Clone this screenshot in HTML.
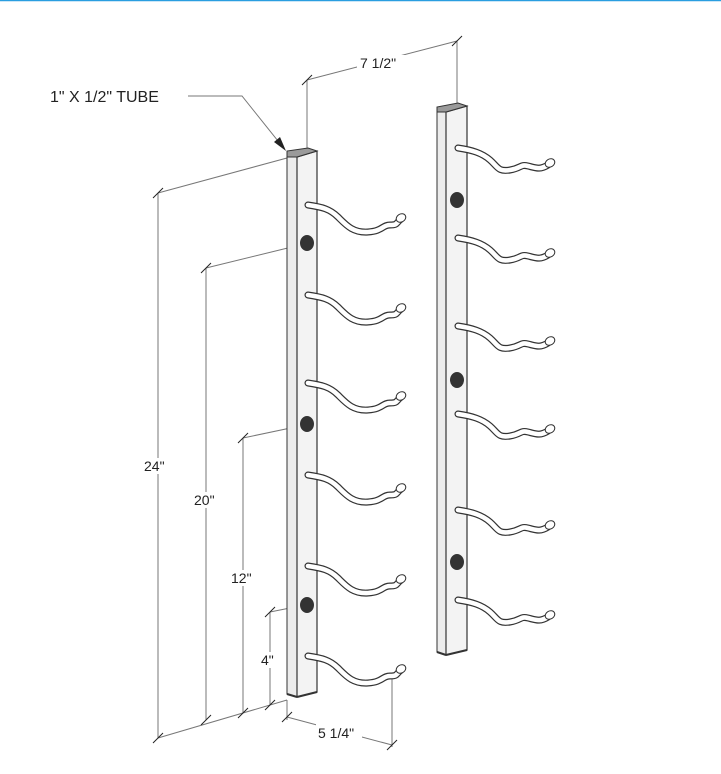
<!DOCTYPE html>
<html><head><style>
html,body{margin:0;padding:0;background:#fff;}
svg{display:block;}
text{font-family:"Liberation Sans",sans-serif;fill:#222;}
</style></head><body>
<svg width="721" height="774" viewBox="0 0 721 774" xmlns="http://www.w3.org/2000/svg">
<defs>
<g id="hook">
<path d="M0,0 C14,2 22,4 30,12 S45,28 60,27 S74,20 82,20 S88,18 92,15" fill="none" stroke="#333" stroke-width="7" stroke-linecap="round"/>
<path d="M0,0 C14,2 22,4 30,12 S45,28 60,27 S74,20 82,20 S88,18 92,15" fill="none" stroke="#fff" stroke-width="4.6" stroke-linecap="round"/>
<ellipse cx="93" cy="13" rx="5" ry="4" transform="rotate(-30 93 13)" fill="#fff" stroke="#333" stroke-width="1"/>
</g>
<g id="hook2">
<path d="M0,0 C14,2 24,5 32,12 S40,24 52,22 S62,16 70,18 S82,22 90,17" fill="none" stroke="#333" stroke-width="7" stroke-linecap="round"/>
<path d="M0,0 C14,2 24,5 32,12 S40,24 52,22 S62,16 70,18 S82,22 90,17" fill="none" stroke="#fff" stroke-width="4.6" stroke-linecap="round"/>
<ellipse cx="92" cy="15" rx="5" ry="4" transform="rotate(-30 92 15)" fill="#fff" stroke="#333" stroke-width="1"/>
</g>
</defs>
<line x1="0" y1="0.5" x2="721" y2="0.5" stroke="#2a9ee0" stroke-width="1.5"/>

<g stroke="#777" stroke-width="1" fill="none">
<line x1="307" y1="80" x2="457" y2="41"/>
<line x1="307" y1="80" x2="307" y2="150"/>
<line x1="457" y1="41" x2="457" y2="105"/>
<line x1="158" y1="193" x2="287" y2="158"/>
<line x1="158" y1="193" x2="158" y2="738"/>
<line x1="206" y1="268" x2="300" y2="245"/>
<line x1="206" y1="268" x2="206" y2="720"/>
<line x1="243" y1="438" x2="300" y2="426"/>
<line x1="243" y1="438" x2="243" y2="713"/>
<line x1="270" y1="612" x2="300" y2="606"/>
<line x1="270" y1="612" x2="270" y2="705"/>
<line x1="158" y1="738" x2="287" y2="700"/>
<line x1="287" y1="700" x2="287" y2="720"/>
<line x1="287" y1="717" x2="392" y2="745"/>
<line x1="392" y1="678" x2="392" y2="747"/>
<polyline points="188,96 242,96 282,146"/>
</g>
<g stroke="#222" stroke-width="1">
<line x1="302" y1="85" x2="312" y2="75"/>
<line x1="452" y1="46" x2="462" y2="36"/>
<line x1="153" y1="198" x2="163" y2="188"/>
<line x1="201" y1="273" x2="211" y2="263"/>
<line x1="238" y1="443" x2="248" y2="433"/>
<line x1="265" y1="617" x2="275" y2="607"/>
<line x1="153" y1="743" x2="163" y2="733"/>
<line x1="201" y1="725" x2="211" y2="715"/>
<line x1="238" y1="718" x2="248" y2="708"/>
<line x1="265" y1="710" x2="275" y2="700"/>
<line x1="282" y1="722" x2="292" y2="712"/>
<line x1="387" y1="750" x2="397" y2="740"/>
</g>
<polygon points="286,151 274,142 280,137" fill="#222"/>
<rect x="357" y="55" width="48" height="16" fill="#fff"/>
<text x="360" y="68" font-size="14">7 1/2"</text>
<text x="50" y="102" font-size="16">1" X 1/2" TUBE</text>
<rect x="142" y="458" width="30" height="16" fill="#fff"/>
<text x="144" y="471" font-size="14">24"</text>
<rect x="192" y="492" width="30" height="16" fill="#fff"/>
<text x="194" y="505" font-size="14">20"</text>
<rect x="229" y="570" width="30" height="16" fill="#fff"/>
<text x="231" y="583" font-size="14">12"</text>
<rect x="258" y="652" width="24" height="16" fill="#fff"/>
<text x="261" y="665" font-size="14">4"</text>
<rect x="316" y="724" width="46" height="16" fill="#fff"/>
<text x="318" y="738" font-size="14">5 1/4"</text>

<polygon points="287,157 297,157 297,697 287,694" fill="#ececec" stroke="#333" stroke-width="1"/>
<polygon points="297,157 317,151 317,692 297,697" fill="#f3f3f3" stroke="#333" stroke-width="1.2"/>
<polygon points="287,157 297,157 317,151 308,148 287,151" fill="#9a9a9a" stroke="#333" stroke-width="1"/>
<line x1="287" y1="694" x2="297" y2="697" stroke="#333" stroke-width="2"/>
<line x1="297" y1="697" x2="317" y2="692" stroke="#333" stroke-width="2"/>
<g transform="translate(308,205)"><use href="#hook"/></g>
<g transform="translate(308,295)"><use href="#hook"/></g>
<g transform="translate(308,383)"><use href="#hook"/></g>
<g transform="translate(308,475)"><use href="#hook"/></g>
<g transform="translate(308,566)"><use href="#hook"/></g>
<g transform="translate(308,656)"><use href="#hook"/></g>
<ellipse cx="307" cy="243" rx="7" ry="8" fill="#333"/>
<ellipse cx="307" cy="424" rx="7" ry="8" fill="#333"/>
<ellipse cx="307" cy="605" rx="7" ry="8" fill="#333"/>

<polygon points="437,112 446,112 446,655 437,652" fill="#ececec" stroke="#333" stroke-width="1"/>
<polygon points="446,112 467,106 467,650 446,655" fill="#f3f3f3" stroke="#333" stroke-width="1.2"/>
<polygon points="437,112 446,112 467,106 458,103 437,107" fill="#9a9a9a" stroke="#333" stroke-width="1"/>
<line x1="437" y1="652" x2="446" y2="655" stroke="#333" stroke-width="2"/>
<line x1="446" y1="655" x2="467" y2="650" stroke="#333" stroke-width="2"/>
<g transform="translate(458,148)"><use href="#hook2"/></g>
<g transform="translate(458,238)"><use href="#hook2"/></g>
<g transform="translate(458,326)"><use href="#hook2"/></g>
<g transform="translate(458,414)"><use href="#hook2"/></g>
<g transform="translate(458,510)"><use href="#hook2"/></g>
<g transform="translate(458,600)"><use href="#hook2"/></g>
<ellipse cx="457" cy="200" rx="7" ry="8" fill="#333"/>
<ellipse cx="457" cy="380" rx="7" ry="8" fill="#333"/>
<ellipse cx="457" cy="562" rx="7" ry="8" fill="#333"/>
</svg>
</body></html>
